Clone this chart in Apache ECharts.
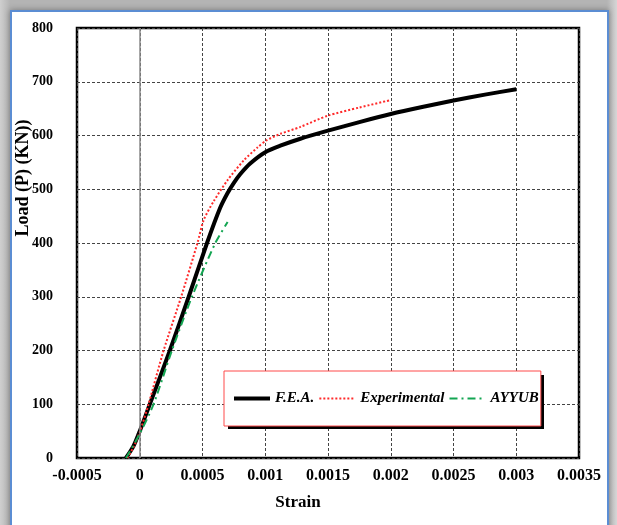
<!DOCTYPE html>
<html>
<head>
<meta charset="utf-8">
<script src="https://cdn.jsdelivr.net/npm/echarts@6/dist/echarts.min.js"></script>
<style>
  html, body { margin: 0; padding: 0; width: 617px; height: 525px; overflow: hidden; }
  body { background: linear-gradient(90deg, #cfcfcf 0px, #b4b4b4 10px, #b4b4b4 607px, #d6d6d6 617px); position: relative; }
  #panel {
    position: absolute; left: 10px; top: 10px; width: 595px; height: 540px;
    background: #ffffff; border: 2px solid #5b8dd3;
    box-shadow: 0 0 6px rgba(0,0,0,0.35);
  }
  #chart { position: absolute; left: 0; top: 0; width: 617px; height: 525px; }
</style>
</head>
<body>
<div id="panel"></div>
<div id="chart"></div>
<script>
// Axis ticks
const xTicks = [-0.0005, 0, 0.0005, 0.001, 0.0015, 0.002, 0.0025, 0.003, 0.0035];
const yTicks = [0, 100, 200, 300, 400, 500, 600, 700, 800];

// F.E.A. load–strain curve
const feaStrain = [-0.00011, -0.00005, 0, 0.00008, 0.00024, 0.00039, 0.000536, 0.00064, 0.0007, 0.00075, 0.0008, 0.00088, 0.001, 0.00112, 0.00128, 0.0015, 0.00175, 0.002, 0.00225, 0.0025, 0.00275, 0.003];
const feaLoad   = [0, 22, 50, 100, 200, 300, 400, 465, 493, 512, 528, 548, 569, 581, 594, 609, 625, 640, 653, 665, 676, 686];

// Experimental curve
const expStrain = [-0.0001, -0.00005, 0, 0.00007, 0.00019, 0.00033, 0.00046, 0.00051, 0.00059, 0.0007, 0.00083, 0.00094, 0.00101, 0.00112, 0.00128, 0.0015, 0.00175, 0.002];
const expLoad   = [0, 20, 48, 100, 200, 300, 400, 443, 478, 517, 554, 578, 591, 603, 616, 637, 652, 666];

// AYYUB curve
const ayyStrain = [-0.00011, 0, 0.00011, 0.000256, 0.000416, 0.000602, 0.0007];
const ayyLoad   = [0, 45, 100, 200, 300, 400, 439];

const seriesNames = ['F.E.A.', 'Experimental', 'AYYUB'];
const seriesColors = ['#000000', '#ff2a2a', '#13a552'];
const seriesWidths = [4, 2, 2];
const seriesDashes = ['solid', [2, 2], [8, 4, 2, 4]];

const pairs = (xs, ys) => xs.map((x, i) => [x, ys[i]]);
const serif = '"Liberation Serif", "Times New Roman", serif';

const chart = echarts.init(document.getElementById('chart'), null, { renderer: 'canvas' });

const curve = (i, xs, ys) => ({
  name: seriesNames[i], type: 'line', z: 3 + i,
  data: pairs(xs, ys),
  symbol: 'none', smooth: 0.25,
  lineStyle: { color: seriesColors[i], width: seriesWidths[i], type: seriesDashes[i] },
  itemStyle: { color: seriesColors[i] }
});

chart.setOption({
  backgroundColor: 'transparent',
  animation: false,
  grid: {
    left: 77, top: 28, right: 38, bottom: 67,
    show: true, backgroundColor: '#ffffff',
    borderColor: '#000000', borderWidth: 2.5
  },
  // drop shadow behind the legend box
  graphic: [{
    type: 'rect', z: 3, silent: true,
    shape: { x: 228, y: 375, width: 316, height: 54 },
    style: { fill: '#000000' }
  }],
  legend: {
    data: seriesNames.map((n, i) => ({
      name: n,
      itemStyle: { opacity: 0 },
      lineStyle: { color: seriesColors[i], width: seriesWidths[i], type: seriesDashes[i] }
    })),
    left: 224, top: 371,
    orient: 'horizontal',
    padding: [20, 2, 20, 8],
    itemWidth: 36, itemHeight: 14, itemGap: 4,
    backgroundColor: '#ffffff',
    borderColor: '#ff4a4a', borderWidth: 1,
    textStyle: { fontFamily: serif, fontStyle: 'italic', fontWeight: 'bold', fontSize: 15, color: '#000' }
  },
  xAxis: {
    type: 'value',
    min: xTicks[0], max: xTicks[xTicks.length - 1],
    interval: xTicks[1] - xTicks[0],
    axisLine: { show: false },
    axisTick: { show: false },
    splitLine: { show: true, lineStyle: { color: '#444', type: [3, 2], width: 1 } },
    axisLabel: {
      margin: 10,
      fontFamily: serif, fontWeight: 'bold', fontSize: 16, color: '#000',
      formatter: v => String(parseFloat(v.toFixed(4)))
    },
    name: 'Strain',
    nameLocation: 'middle',
    nameGap: 36,
    nameMoveOverlap: false,
    nameTextStyle: { fontFamily: serif, fontWeight: 'bold', fontSize: 17, color: '#000', padding: [0, 60, 0, 0] }
  },
  yAxis: {
    type: 'value',
    min: yTicks[0], max: yTicks[yTicks.length - 1],
    interval: yTicks[1] - yTicks[0],
    axisLine: { show: false },
    axisTick: { show: false },
    splitLine: { show: true, lineStyle: { color: '#444', type: [3, 2], width: 1 } },
    axisLabel: { margin: 24, fontFamily: serif, fontWeight: 'bold', fontSize: 14, color: '#000' },
    name: 'Load (P) (KN))',
    nameLocation: 'middle',
    nameGap: 45,
    nameMoveOverlap: false,
    nameTextStyle: { fontFamily: serif, fontWeight: 'bold', fontSize: 18, color: '#000', padding: [0, 0, 0, 130] }
  },
  series: [
    {
      // vertical value axis crossing at strain = 0
      type: 'line', name: 'axis0', data: [], z: 1, silent: true,
      markLine: {
        silent: true, symbol: ['none', 'none'], label: { show: false },
        lineStyle: { color: '#8a8a8a', type: 'solid', width: 1.5 },
        data: [{ xAxis: 0 }]
      }
    },
    curve(0, feaStrain, feaLoad),
    curve(1, expStrain, expLoad),
    curve(2, ayyStrain, ayyLoad)
  ]
});
</script>
</body>
</html>
